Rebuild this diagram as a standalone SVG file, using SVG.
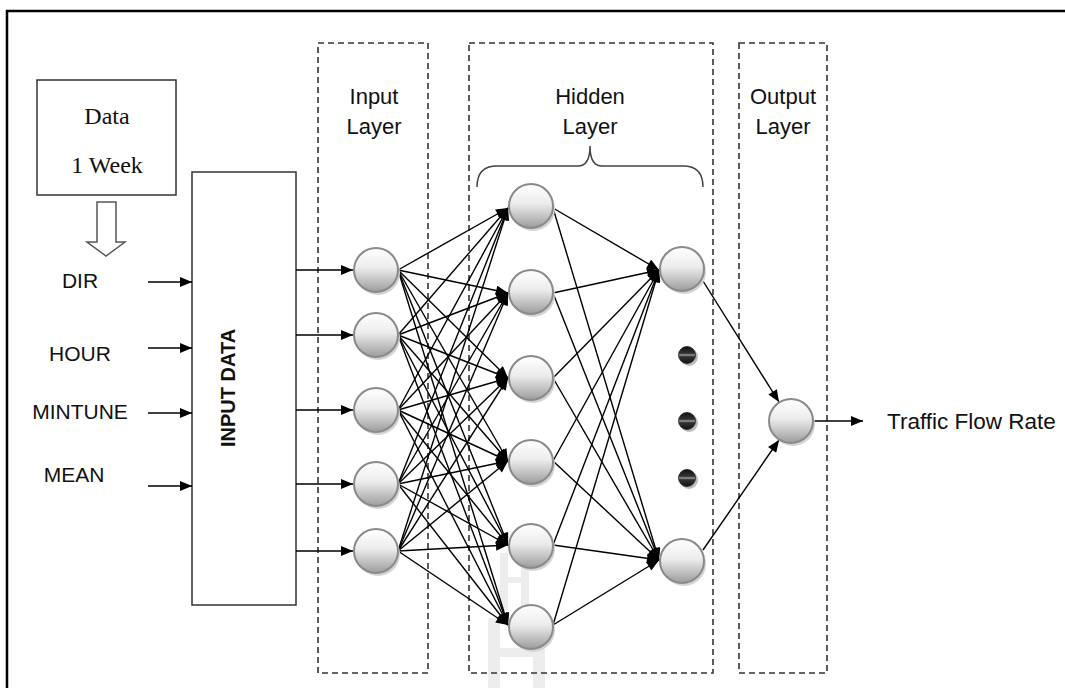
<svg xmlns="http://www.w3.org/2000/svg" width="1065" height="688" viewBox="0 0 1065 688">
<style>
.lbl{font-family:"Liberation Sans",Arial,sans-serif;font-size:21px;fill:#111}
.lay{font-family:"Liberation Sans",Arial,sans-serif;font-size:22px;fill:#111;text-anchor:middle}
.big{font-family:"Liberation Sans",Arial,sans-serif;font-size:22.5px;fill:#111}
.vert{font-family:"Liberation Sans",Arial,sans-serif;font-size:20px;font-weight:bold;fill:#111;text-anchor:middle}
.ser{font-family:"Liberation Serif","Times New Roman",serif;font-size:24px;fill:#111}
.box{fill:#fff;stroke:#333;stroke-width:1.5}
.dash{fill:none;stroke:#333;stroke-width:1.6;stroke-dasharray:6 4}
.node{fill:url(#ng);stroke:#8a8a8a;stroke-width:2}
.shadow{fill:#d4d4d4}
.dot{fill:url(#dg);stroke:#222;stroke-width:0.8}
#connectors line{stroke:#000;stroke-width:1.4;marker-end:url(#ah)}
</style>
<defs>
<linearGradient id="ng" x1="0" y1="0" x2="0" y2="1">
<stop offset="0" stop-color="#ffffff"/>
<stop offset="0.45" stop-color="#ececec"/>
<stop offset="1" stop-color="#9c9c9c"/>
</linearGradient>
<linearGradient id="dg" x1="0" y1="0" x2="0" y2="1">
<stop offset="0" stop-color="#111"/>
<stop offset="0.4" stop-color="#333"/>
<stop offset="0.5" stop-color="#9a9a9a"/>
<stop offset="0.6" stop-color="#333"/>
<stop offset="1" stop-color="#111"/>
</linearGradient>
<marker id="ah" viewBox="0 0 12 10" refX="12" refY="5" markerWidth="13" markerHeight="10" markerUnits="userSpaceOnUse" orient="auto">
<path d="M0,0 L12,5 L0,10 z" fill="#000"/>
</marker>
</defs>
<rect width="1065" height="688" fill="#fff"/>
<path d="M7,688 V11 H1065" fill="none" stroke="#000" stroke-width="2.5"/>

<g id="watermark" fill="#ededed">
<rect x="500" y="553" width="8" height="58"/>
<rect x="521" y="553" width="8" height="58"/>
<rect x="500" y="577" width="29" height="6"/>
<rect x="488" y="618" width="12" height="70"/>
<rect x="533" y="618" width="12" height="70"/>
<rect x="488" y="648" width="57" height="9"/>
</g>

<g id="layer-boxes">
<rect class="dash" x="318" y="43" width="110" height="630"/>
<rect class="dash" x="469" y="43" width="244" height="630"/>
<rect class="dash" x="739" y="43" width="88" height="630"/>
<text class="lay" x="374" y="104">Input</text>
<text class="lay" x="374" y="134">Layer</text>
<text class="lay" x="590" y="104">Hidden</text>
<text class="lay" x="590" y="134">Layer</text>
<text class="lay" x="783" y="104">Output</text>
<text class="lay" x="783" y="134">Layer</text>
<path d="M477,187 Q477,166 497,166 H578 Q590,166 590,146 Q590,166 602,166 H683 Q703,166 703,187" fill="none" stroke="#444" stroke-width="1.5"/>
</g>

<g id="data-box">
<rect class="box" x="37" y="80" width="139" height="115"/>
<text class="ser" x="107" y="124" text-anchor="middle">Data</text>
<text class="ser" x="107" y="173" text-anchor="middle">1 Week</text>
<polygon points="97,202 116,202 116,242 125,242 106,256 87,242 97,242" fill="#fff" stroke="#555" stroke-width="1.5"/>
</g>

<g id="features">
<text class="lbl" x="80" y="288" text-anchor="middle">DIR</text>
<text class="lbl" x="80" y="361" text-anchor="middle">HOUR</text>
<text class="lbl" x="80" y="419" text-anchor="middle">MINTUNE</text>
<text class="lbl" x="74" y="482" text-anchor="middle">MEAN</text>
</g>

<g id="input-data">
<rect class="box" x="192" y="172" width="104" height="433"/>
<text class="vert" x="0" y="0" transform="translate(235,388) rotate(-90)">INPUT DATA</text>
</g>

<g id="connectors">
<line x1="148" y1="282" x2="192" y2="282"/>
<line x1="148" y1="348" x2="192" y2="348"/>
<line x1="148" y1="413" x2="192" y2="413"/>
<line x1="148" y1="486" x2="192" y2="486"/>
<line x1="296" y1="270" x2="353" y2="270"/>
<line x1="296" y1="335" x2="353" y2="335"/>
<line x1="296" y1="410" x2="353" y2="410"/>
<line x1="296" y1="484" x2="353" y2="484"/>
<line x1="296" y1="551" x2="353" y2="551"/>

<line x1="398" y1="270" x2="508" y2="208"/>
<line x1="398" y1="270" x2="508" y2="293"/>
<line x1="398" y1="270" x2="508" y2="378"/>
<line x1="398" y1="270" x2="508" y2="461"/>
<line x1="398" y1="270" x2="508" y2="545"/>
<line x1="398" y1="270" x2="508" y2="625"/>
<line x1="398" y1="335" x2="508" y2="208"/>
<line x1="398" y1="335" x2="508" y2="293"/>
<line x1="398" y1="335" x2="508" y2="378"/>
<line x1="398" y1="335" x2="508" y2="461"/>
<line x1="398" y1="335" x2="508" y2="545"/>
<line x1="398" y1="335" x2="508" y2="625"/>
<line x1="398" y1="410" x2="508" y2="208"/>
<line x1="398" y1="410" x2="508" y2="293"/>
<line x1="398" y1="410" x2="508" y2="378"/>
<line x1="398" y1="410" x2="508" y2="461"/>
<line x1="398" y1="410" x2="508" y2="545"/>
<line x1="398" y1="410" x2="508" y2="625"/>
<line x1="398" y1="484" x2="508" y2="208"/>
<line x1="398" y1="484" x2="508" y2="293"/>
<line x1="398" y1="484" x2="508" y2="378"/>
<line x1="398" y1="484" x2="508" y2="461"/>
<line x1="398" y1="484" x2="508" y2="545"/>
<line x1="398" y1="484" x2="508" y2="625"/>
<line x1="398" y1="551" x2="508" y2="208"/>
<line x1="398" y1="551" x2="508" y2="293"/>
<line x1="398" y1="551" x2="508" y2="378"/>
<line x1="398" y1="551" x2="508" y2="461"/>
<line x1="398" y1="551" x2="508" y2="545"/>
<line x1="398" y1="551" x2="508" y2="625"/>

<line x1="553" y1="208" x2="659" y2="270"/>
<line x1="553" y1="208" x2="659" y2="560"/>
<line x1="553" y1="293" x2="659" y2="270"/>
<line x1="553" y1="293" x2="659" y2="560"/>
<line x1="553" y1="378" x2="659" y2="270"/>
<line x1="553" y1="378" x2="659" y2="560"/>
<line x1="553" y1="461" x2="659" y2="270"/>
<line x1="553" y1="461" x2="659" y2="560"/>
<line x1="553" y1="545" x2="659" y2="270"/>
<line x1="553" y1="545" x2="659" y2="560"/>
<line x1="553" y1="625" x2="659" y2="270"/>
<line x1="553" y1="625" x2="659" y2="560"/>

<line x1="703" y1="281" x2="779" y2="402"/>
<line x1="703" y1="550" x2="779" y2="440"/>
<line x1="813" y1="421" x2="863" y2="421"/>
</g>

<g id="input-nodes">
<circle class="shadow" cx="378" cy="273" r="22"/><circle class="node" cx="376" cy="270" r="22"/>
<circle class="shadow" cx="378" cy="338" r="22"/><circle class="node" cx="376" cy="335" r="22"/>
<circle class="shadow" cx="378" cy="413" r="22"/><circle class="node" cx="376" cy="410" r="22"/>
<circle class="shadow" cx="378" cy="487" r="22"/><circle class="node" cx="376" cy="484" r="22"/>
<circle class="shadow" cx="378" cy="554" r="22"/><circle class="node" cx="376" cy="551" r="22"/>
</g>

<g id="hidden-nodes">
<circle class="shadow" cx="533" cy="209" r="22"/><circle class="node" cx="531" cy="206" r="22"/>
<circle class="shadow" cx="533" cy="295" r="22"/><circle class="node" cx="531" cy="292" r="22"/>
<circle class="shadow" cx="533" cy="381" r="22"/><circle class="node" cx="531" cy="378" r="22"/>
<circle class="shadow" cx="533" cy="465" r="22"/><circle class="node" cx="531" cy="462" r="22"/>
<circle class="shadow" cx="533" cy="549" r="22"/><circle class="node" cx="531" cy="546" r="22"/>
<circle class="shadow" cx="533" cy="630" r="22"/><circle class="node" cx="531" cy="627" r="22"/>
</g>

<g id="hidden2-nodes">
<circle class="shadow" cx="684" cy="272" r="22"/><circle class="node" cx="682" cy="269" r="22"/>
<circle class="shadow" cx="684" cy="564" r="22"/><circle class="node" cx="682" cy="561" r="22"/>
<circle cx="689" cy="357" r="9" fill="#bbb"/><ellipse class="dot" cx="687" cy="355" rx="8.5" ry="8.5"/>
<circle cx="689" cy="423" r="9" fill="#bbb"/><ellipse class="dot" cx="687" cy="421" rx="8.5" ry="8.5"/>
<circle cx="689" cy="480" r="9" fill="#bbb"/><ellipse class="dot" cx="687" cy="478" rx="8.5" ry="8.5"/>
</g>

<g id="output-node">
<circle class="shadow" cx="793" cy="424" r="22"/><circle class="node" cx="791" cy="421" r="22"/>
<text class="big" x="887" y="429">Traffic Flow Rate</text>
</g>
</svg>
